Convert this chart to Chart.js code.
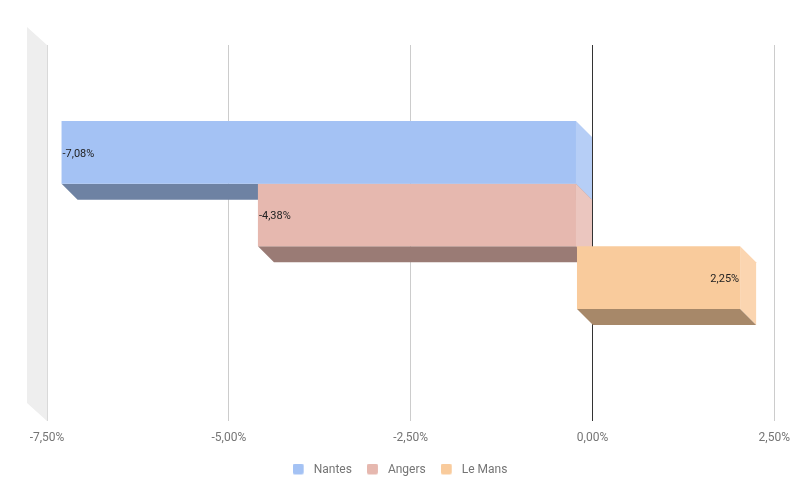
<!DOCTYPE html>
<html>
<head>
<meta charset="utf-8">
<script src="https://cdn.jsdelivr.net/npm/chart.js@4/dist/chart.umd.min.js"></script>
<style>
  html, body { margin: 0; padding: 0; background: #ffffff; }
  #wrap { width: 800px; height: 500px; }
</style>
</head>
<body>
<div id="wrap"><canvas id="c" width="800" height="500"></canvas></div>
<script>
// ---- data ----
const categories = [''];
const seriesNames = ['Nantes', 'Angers', 'Le Mans'];
const nantesValues = [-7.08];
const angersValues = [-4.38];
const leMansValues = [2.25];
const xTickValues = [-7.5, -5, -2.5, 0, 2.5];

// ---- styles ----
const frontColors = ['#a4c2f4', '#e6b8af', '#f9cb9c'];
const sideColors = ['#b6cef6', '#ebc6bf', '#fbd5b0'];
const bottomColors = ['#6e82a3', '#9a7b75', '#a78869'];
const DEPTH = 16;

function fmt(v) {
  return v.toFixed(2).replace('.', ',') + '%';
}

function makeIcon(color) {
  const c = document.createElement('canvas');
  c.width = 15; c.height = 12;
  const g = c.getContext('2d');
  const r = 2, x = 0, y = 0, w = 11, h = 11;
  g.fillStyle = color;
  g.beginPath();
  g.moveTo(x + r, y);
  g.lineTo(x + w - r, y);
  g.arcTo(x + w, y, x + w, y + r, r);
  g.lineTo(x + w, y + h - r);
  g.arcTo(x + w, y + h, x + w - r, y + h, r);
  g.lineTo(x + r, y + h);
  g.arcTo(x, y + h, x, y + h - r, r);
  g.lineTo(x, y + r);
  g.arcTo(x, y, x + r, y, r);
  g.closePath();
  g.fill();
  return c;
}
const legendIcons = frontColors.map(makeIcon);

const threeD = {
  id: 'threeD',
  beforeDatasetsDraw(chart) {
    const ctx = chart.ctx;
    const area = chart.chartArea;
    // left wall
    ctx.save();
    ctx.fillStyle = '#eeeeee';
    ctx.beginPath();
    ctx.moveTo(area.left - 20, area.top - 18);
    ctx.lineTo(area.left, area.top);
    ctx.lineTo(area.left, area.bottom + 4);
    ctx.lineTo(area.left - 20, area.bottom + 4 - 18);
    ctx.closePath();
    ctx.fill();
    ctx.strokeStyle = '#d9d9d9';
    ctx.lineWidth = 1;
    ctx.beginPath();
    ctx.moveTo(area.left + 0.5, area.top);
    ctx.lineTo(area.left + 0.5, area.bottom + 4);
    ctx.stroke();
    // side + bottom faces of bars
    chart.data.datasets.forEach((ds, i) => {
      const meta = chart.getDatasetMeta(i);
      meta.data.forEach((el) => {
        const p = el.getProps(['x', 'y', 'base', 'height'], true);
        const x0 = Math.min(p.x, p.base), x1 = Math.max(p.x, p.base);
        const yT = p.y - p.height / 2, yB = p.y + p.height / 2;
        const d = DEPTH;
        ctx.fillStyle = sideColors[i];
        ctx.beginPath();
        ctx.moveTo(x1 - d, yT - d);
        ctx.lineTo(x1, yT);
        ctx.lineTo(x1, yB);
        ctx.lineTo(x1 - d, yB - d);
        ctx.closePath();
        ctx.fill();
        ctx.fillStyle = bottomColors[i];
        ctx.beginPath();
        ctx.moveTo(x0 - d, yB - d);
        ctx.lineTo(x1 - d, yB - d);
        ctx.lineTo(x1, yB);
        ctx.lineTo(x0, yB);
        ctx.closePath();
        ctx.fill();
      });
    });
    ctx.restore();
    ctx.save();
    ctx.translate(-DEPTH, -DEPTH);
  },
  afterDatasetsDraw(chart) {
    const ctx = chart.ctx;
    ctx.restore();
    ctx.save();
    ctx.font = '11px Roboto, sans-serif';
    ctx.fillStyle = '#222222';
    ctx.textBaseline = 'middle';
    chart.data.datasets.forEach((ds, i) => {
      const meta = chart.getDatasetMeta(i);
      meta.data.forEach((el, j) => {
        const v = ds.data[j];
        const p = el.getProps(['x', 'y'], true);
        const fx = p.x - DEPTH, fy = p.y - DEPTH;
        if (v < 0) {
          ctx.textAlign = 'left';
          ctx.fillText(fmt(v), fx + 1, fy + 1.5);
        } else {
          ctx.textAlign = 'right';
          ctx.fillText(fmt(v), fx - 1, fy + 1.5);
        }
      });
    });
    ctx.restore();
  }
};

Chart.defaults.font.family = 'Roboto, sans-serif';

const seriesValues = [nantesValues, angersValues, leMansValues];

new Chart(document.getElementById('c'), {
  type: 'bar',
  data: {
    labels: categories,
    datasets: seriesNames.map((name, i) => ({
      label: name,
      data: seriesValues[i],
      backgroundColor: frontColors[i],
      borderWidth: 0,
      inflateAmount: 0,
      barPercentage: 1,
      categoryPercentage: 0.5054
    }))
  },
  options: {
    indexAxis: 'y',
    responsive: false,
    animation: false,
    events: [],
    layout: { padding: { left: 25, right: 25, top: 45, bottom: 14.5 } },
    scales: {
      x: {
        type: 'linear',
        position: 'bottom',
        min: xTickValues[0],
        max: xTickValues[xTickValues.length - 1],
        afterBuildTicks(scale) {
          scale.ticks = xTickValues.map(v => ({ value: v }));
        },
        afterFit(scale) { scale.height = 31.5; },
        border: { display: false },
        grid: {
          drawTicks: true,
          tickLength: 4,
          lineWidth: 1,
          color(ctx) {
            const v = ctx.tick ? ctx.tick.value : null;
            if (v === 0) return '#333333';
            if (v === xTickValues[0]) return 'rgba(0,0,0,0)';
            return '#cccccc';
          }
        },
        ticks: {
          padding: 10,
          color: '#757575',
          font: { size: 12, family: 'Roboto, sans-serif' },
          maxRotation: 0,
          autoSkip: false,
          callback(v) { return fmt(v); }
        }
      },
      y: {
        type: 'category',
        display: true,
        afterFit(scale) { scale.width = 22; },
        grid: { display: false, drawTicks: false },
        border: { display: false },
        ticks: { display: false }
      }
    },
    plugins: {
      tooltip: { enabled: false },
      legend: {
        display: true,
        position: 'bottom',
        align: 'center',
        labels: {
          usePointStyle: true,
          pointStyleWidth: 15,
          padding: 15,
          color: '#757575',
          font: { size: 12, family: 'Roboto, sans-serif' },
          generateLabels(chart) {
            return chart.data.datasets.map((ds, i) => ({
              text: ds.label,
              fillStyle: frontColors[i],
              strokeStyle: frontColors[i],
              lineWidth: 0,
              pointStyle: legendIcons[i],
              hidden: false,
              datasetIndex: i,
              fontColor: '#757575'
            }));
          }
        }
      }
    }
  },
  plugins: [threeD]
});
</script>
</body>
</html>
